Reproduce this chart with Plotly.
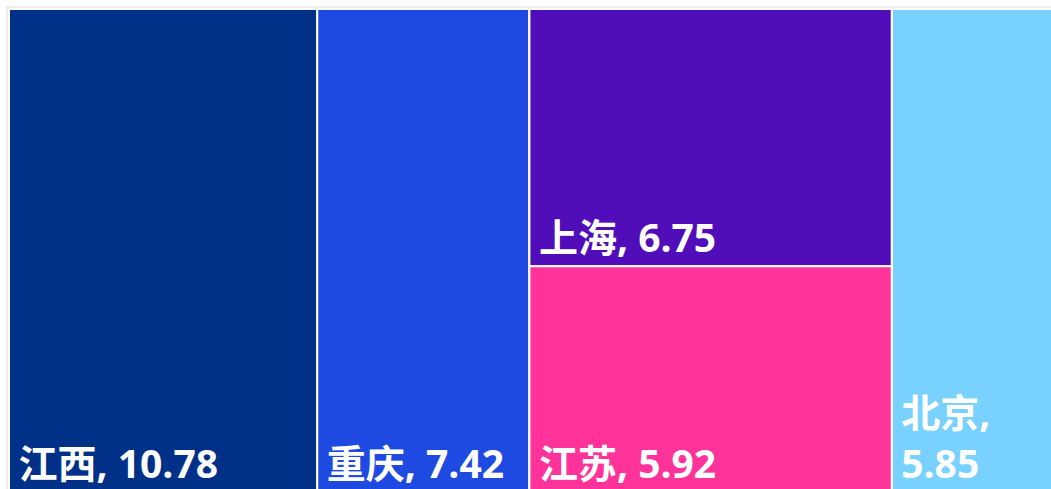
import plotly.graph_objects as go

# leaf data
labels = ["江西", "重庆", "上海", "江苏", "北京"]
values = [10.78, 7.42, 6.75, 5.92, 5.85]
colors = ["#003087", "#1f4ae2", "#500db9", "#ff3399", "#79d1ff"]
texts = ["江西, 10.78", "重庆, 7.42", "上海, 6.75", "江苏, 5.92", "北京,<br>\u20095.85"]
# layout grouping: 上海 and 江苏 share one column
group_id = "grp"
parents = ["", "", group_id, group_id, ""]

ids = labels[:2] + [group_id] + labels[2:]
all_labels = labels[:2] + [""] + labels[2:]
all_parents = parents[:2] + [""] + parents[2:]
all_values = values[:2] + [0] + values[2:]
all_colors = colors[:2] + ["#ffffff"] + colors[2:]
all_texts = [("\u2009" + t if t else "") for t in (texts[:2] + [""] + texts[2:])]

fig = go.Figure(go.Treemap(
    ids=ids,
    labels=all_labels,
    parents=all_parents,
    values=all_values,
    branchvalues="remainder",
    text=all_texts,
    texttemplate="%{text}",
    textposition="bottom left",
    sort=False,
    tiling=dict(packing="slice-dice", pad=0),
    pathbar=dict(visible=False),
    marker=dict(colors=all_colors, line=dict(color="white", width=2), pad=dict(t=0, l=0, r=0, b=0)),
    textfont=dict(family="Open Sans, Noto Sans CJK SC", size=39, color="white", weight="bold"),
    hoverinfo="label+value",
))
W, H = 1059, 497
ml, mt, mr, mb = 9, 9, 0, 5
pw, ph = W - ml - mr, H - mt - mb
fig.update_layout(
    width=W, height=H,
    margin=dict(l=ml, t=mt, r=mr, b=mb),
    paper_bgcolor="white",
    shapes=[dict(type="rect", xref="paper", yref="paper",
                 x0=-2 / pw, y0=-mb / ph, x1=1 + 2 / pw, y1=1 + 2 / ph,
                 line=dict(color="#dcdcdc", width=1), layer="below")],
)
fig.write_html(
    "out.html",
    config={"displayModeBar": False},
    post_script="document.documentElement.style.overflow='hidden';document.body.style.overflow='hidden';document.body.style.margin='0';",
)
